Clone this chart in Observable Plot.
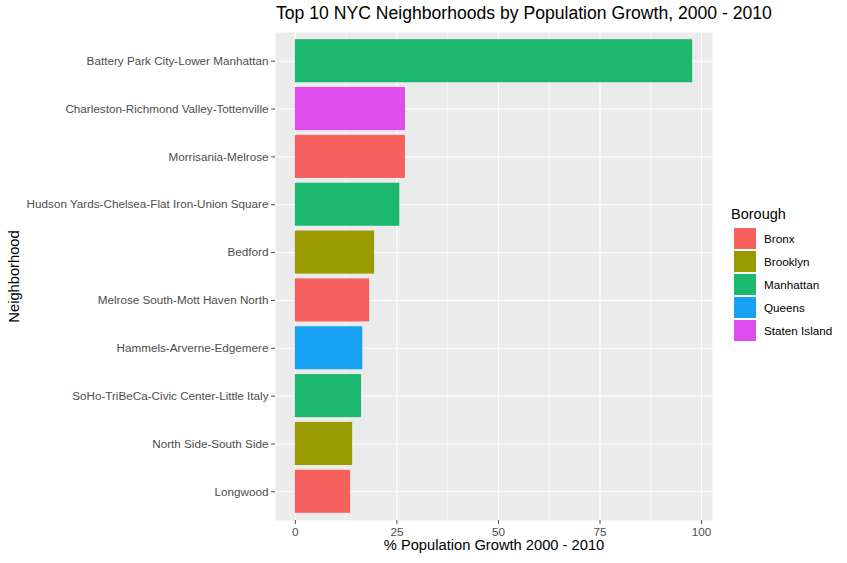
<!DOCTYPE html>
<html>
<head>
<meta charset="utf-8">
<script src="https://cdn.jsdelivr.net/npm/d3@7"></script>
<script src="https://cdn.jsdelivr.net/npm/@observablehq/plot@0.6"></script>
<style>
  body { margin: 0; background: #fff; font-family: "Liberation Sans", Arial, Helvetica, sans-serif; }
  #wrap { position: relative; width: 847px; height: 563px; }
  #title { position: absolute; left: 276px; top: 3px; font-size: 17.6px; color: #000; white-space: nowrap; }
  #chart { position: absolute; left: 0; top: 28px; }
  #legend { position: absolute; left: 731px; top: 206px; }
  #legend .lt { font-size: 14.5px; color: #000; margin-bottom: 5px; }
  #legend .row { display: flex; align-items: center; height: 23px; }
  #legend .sw { width: 22px; height: 21px; margin-left: 3px; margin-right: 8px; }
  #legend .lab { font-size: 11.7px; color: #000; }
</style>
</head>
<body>
<div id="wrap">
  <div id="title">Top 10 NYC Neighborhoods by Population Growth, 2000 - 2010</div>
  <div id="chart"></div>
  <div id="legend"></div>
</div>
<script>
const neighborhoods = [
  "Battery Park City-Lower Manhattan",
  "Charleston-Richmond Valley-Tottenville",
  "Morrisania-Melrose",
  "Hudson Yards-Chelsea-Flat Iron-Union Square",
  "Bedford",
  "Melrose South-Mott Haven North",
  "Hammels-Arverne-Edgemere",
  "SoHo-TriBeCa-Civic Center-Little Italy",
  "North Side-South Side",
  "Longwood"
];
const growth = [97.8, 27.1, 27.1, 25.7, 19.5, 18.3, 16.6, 16.3, 14.1, 13.6];
const borough = ["Manhattan", "Staten Island", "Bronx", "Manhattan", "Brooklyn", "Bronx", "Queens", "Manhattan", "Brooklyn", "Bronx"];
const boroughs = ["Bronx", "Brooklyn", "Manhattan", "Queens", "Staten Island"];
const boroughColors = ["#F6615D", "#999900", "#1CB86E", "#17A2F3", "#DE4BEF"];
const xMajor = [0, 25, 50, 75, 100];
const xMinor = [12.5, 37.5, 62.5, 87.5];

const data = neighborhoods.map((n, i) => ({name: n, growth: growth[i], borough: borough[i]}));

const chart = Plot.plot({
  width: 847,
  height: 535,
  marginLeft: 275,
  marginRight: 135,
  marginTop: 4,
  marginBottom: 43,
  style: {fontFamily: "'Liberation Sans', Arial, Helvetica, sans-serif", background: "transparent"},
  x: {domain: [-4.89, 102.69]},
  y: {domain: neighborhoods, paddingInner: 0.1, paddingOuter: 0.15, round: false},
  color: {domain: boroughs, range: boroughColors},
  marks: [
    Plot.frame({fill: "#EBEBEB", stroke: null}),
    Plot.ruleX(xMinor, {stroke: "#fff", strokeWidth: 0.55}),
    Plot.ruleX(xMajor, {stroke: "#fff", strokeWidth: 1.1}),
    Plot.ruleY(neighborhoods, {y: d => d, stroke: "#fff", strokeWidth: 1.1}),
    Plot.barX(data, {x: "growth", y: "name", fill: "borough"}),
    Plot.axisX({ticks: xMajor, tickSize: 4, tickPadding: 3, fontSize: 11.7, color: "#4d4d4d", label: null}),
    Plot.axisY({tickSize: 4, tickPadding: 3, fontSize: 11.7, color: "#4d4d4d", label: null}),
    Plot.text(["% Population Growth 2000 - 2010"], {frameAnchor: "bottom", dy: 29, fontSize: 14.7, fill: "#000"}),
    Plot.text(["Neighborhood"], {frameAnchor: "left", textAnchor: "middle", dx: -261, rotate: -90, fontSize: 14.7, fill: "#000"})
  ]
});
document.getElementById("chart").appendChild(chart);

const lg = document.getElementById("legend");
const t = document.createElement("div");
t.className = "lt"; t.textContent = "Borough";
lg.appendChild(t);
boroughs.forEach((b, i) => {
  const r = document.createElement("div"); r.className = "row";
  const s = document.createElement("div"); s.className = "sw"; s.style.background = boroughColors[i];
  const l = document.createElement("div"); l.className = "lab"; l.textContent = b;
  r.appendChild(s); r.appendChild(l); lg.appendChild(r);
});
</script>
</body>
</html>
